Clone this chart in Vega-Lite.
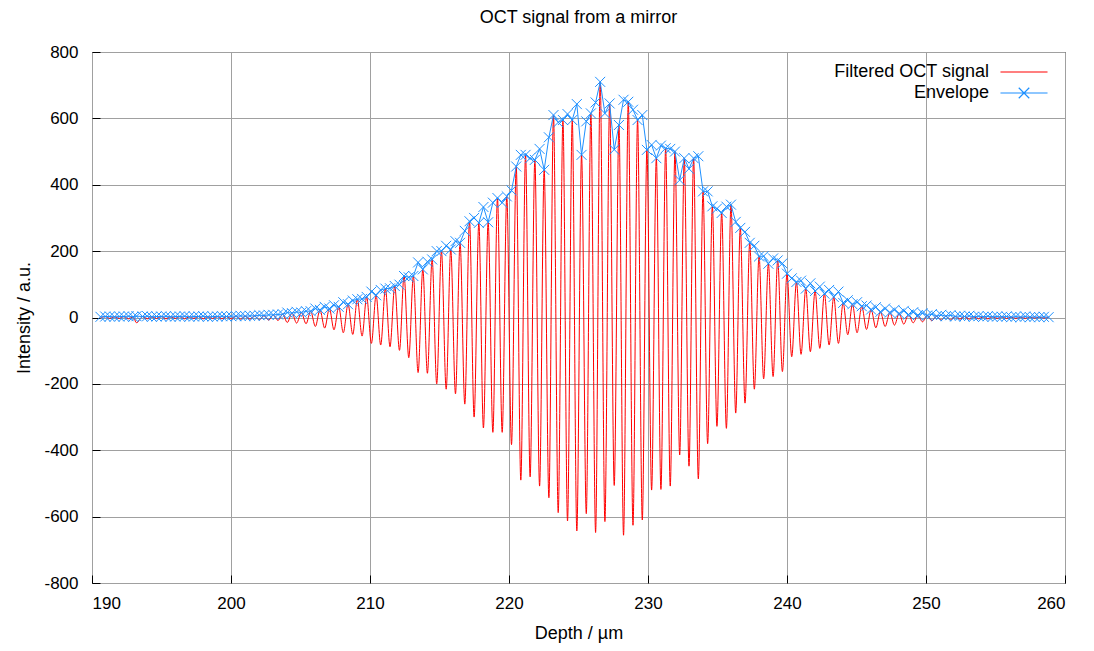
{
"$schema": "https://vega.github.io/schema/vega-lite/v6.json",
"width": 973, "height": 531,
"autosize": {"type": "none"},
"padding": {"left": 92, "top": 52, "right": 29, "bottom": 68},
"background": "white",
"title": {"text": "OCT signal from a mirror", "fontSize": 18, "fontWeight": "normal", "font": "Liberation Sans", "color": "black", "offset": 16, "anchor": "middle"},
"config": {
  "view": {"stroke": "black", "strokeWidth": 1},
  "font": "Liberation Sans",
  "axis": {"labelFont": "Liberation Sans", "labelFontSize": 17, "labelColor": "black", "titleFont": "Liberation Sans", "titleFontSize": 18, "titleFontWeight": "normal", "titleColor": "black", "domain": false, "grid": true, "gridColor": "#a0a0a0", "gridWidth": 1, "gridOpacity": 1, "tickColor": "black", "tickSize": -8, "tickWidth": 1, "labelExpr": "'' + datum.value"}
},
"data": {"values": [
{"x":190.61,"s":-2,"e":2},{"x":190.95,"s":3,"e":3},{"x":191.28,"s":-3,"e":3},{"x":191.62,"s":2,"e":2},{"x":191.96,"s":-3,"e":3},
{"x":192.29,"s":3,"e":3},{"x":192.63,"s":-4,"e":4},{"x":192.96,"s":2,"e":2},{"x":193.2,"s":-16,"e":4},{"x":193.64,"s":3,"e":3},
{"x":193.97,"s":-4,"e":4},{"x":194.31,"s":2,"e":2},{"x":194.64,"s":-3,"e":3},{"x":194.98,"s":3,"e":3},{"x":195.32,"s":-4,"e":4},
{"x":195.65,"s":2,"e":2},{"x":195.99,"s":-3,"e":3},{"x":196.32,"s":3,"e":3},{"x":196.66,"s":-4,"e":4},{"x":197.0,"s":2,"e":2},
{"x":197.33,"s":-3,"e":3},{"x":197.67,"s":3,"e":3},{"x":198.0,"s":-4,"e":4},{"x":198.34,"s":2,"e":2},{"x":198.68,"s":-3,"e":3},
{"x":199.01,"s":3,"e":3},{"x":199.35,"s":-4,"e":4},{"x":199.68,"s":3,"e":3},{"x":200.02,"s":-4,"e":4},{"x":200.36,"s":4,"e":4},
{"x":200.69,"s":-5,"e":5},{"x":201.03,"s":4,"e":4},{"x":201.36,"s":-5,"e":5},{"x":201.7,"s":5,"e":5},{"x":202.04,"s":-7,"e":7},
{"x":202.37,"s":6,"e":6},{"x":202.71,"s":-8,"e":8},{"x":203.04,"s":8,"e":8},{"x":203.38,"s":-9,"e":9},{"x":203.72,"s":10,"e":10},
{"x":204.05,"s":-15,"e":15},{"x":204.39,"s":13,"e":13},{"x":204.72,"s":-17,"e":17},{"x":205.06,"s":15,"e":15},{"x":205.4,"s":-19,"e":19},
{"x":205.73,"s":19,"e":19},{"x":206.07,"s":-27,"e":27},{"x":206.4,"s":23,"e":23},{"x":206.74,"s":-32,"e":32},{"x":207.08,"s":27,"e":27},
{"x":207.41,"s":-37,"e":37},{"x":207.75,"s":32,"e":32},{"x":208.08,"s":-46,"e":46},{"x":208.42,"s":40,"e":40},{"x":208.76,"s":-51,"e":51},
{"x":209.09,"s":55,"e":55},{"x":209.43,"s":-56,"e":56},{"x":209.76,"s":62,"e":62},{"x":210.1,"s":-78,"e":78},{"x":210.44,"s":67,"e":67},
{"x":210.77,"s":-83,"e":83},{"x":211.11,"s":87,"e":87},{"x":211.44,"s":-88,"e":88},{"x":211.78,"s":95,"e":95},{"x":212.12,"s":-99,"e":99},
{"x":212.45,"s":125,"e":125},{"x":212.79,"s":-121,"e":121},{"x":213.12,"s":125,"e":125},{"x":213.46,"s":-166,"e":166},{"x":213.8,"s":145,"e":145},
{"x":214.13,"s":-168,"e":168},{"x":214.47,"s":175,"e":175},{"x":214.8,"s":-200,"e":200},{"x":215.14,"s":200,"e":200},{"x":215.48,"s":-216,"e":216},
{"x":215.81,"s":205,"e":205},{"x":216.15,"s":-230,"e":230},{"x":216.48,"s":225,"e":225},{"x":216.82,"s":-261,"e":261},{"x":217.16,"s":290,"e":290},
{"x":217.49,"s":-300,"e":300},{"x":217.83,"s":285,"e":285},{"x":218.16,"s":-333,"e":333},{"x":218.5,"s":287,"e":287},{"x":218.84,"s":-346,"e":346},
{"x":219.17,"s":360,"e":360},{"x":219.51,"s":-346,"e":346},{"x":219.84,"s":365,"e":365},{"x":220.18,"s":-383,"e":383},{"x":220.52,"s":455,"e":455},
{"x":220.85,"s":-490,"e":490},{"x":221.19,"s":490,"e":490},{"x":221.52,"s":-480,"e":480},{"x":221.86,"s":475,"e":475},{"x":222.2,"s":-508,"e":508},
{"x":222.53,"s":445,"e":445},{"x":222.87,"s":-543,"e":543},{"x":223.2,"s":610,"e":610},{"x":223.54,"s":-588,"e":588},{"x":223.88,"s":595,"e":595},
{"x":224.21,"s":-613,"e":613},{"x":224.55,"s":595,"e":595},{"x":224.88,"s":-643,"e":643},{"x":225.22,"s":490,"e":490},{"x":225.56,"s":-591,"e":591},
{"x":225.89,"s":615,"e":615},{"x":226.23,"s":-648,"e":648},{"x":226.56,"s":710,"e":710},{"x":226.9,"s":-615,"e":615},{"x":227.24,"s":645,"e":645},
{"x":227.57,"s":-506,"e":506},{"x":227.91,"s":580,"e":580},{"x":228.24,"s":-656,"e":656},{"x":228.58,"s":650,"e":650},{"x":228.92,"s":-626,"e":626},
{"x":229.25,"s":595,"e":595},{"x":229.59,"s":-610,"e":610},{"x":229.92,"s":505,"e":505},{"x":230.26,"s":-520,"e":520},{"x":230.6,"s":480,"e":480},
{"x":230.93,"s":-518,"e":518},{"x":231.27,"s":510,"e":510},{"x":231.6,"s":-508,"e":508},{"x":231.94,"s":500,"e":500},{"x":232.28,"s":-414,"e":414},
{"x":232.61,"s":480,"e":480},{"x":232.95,"s":-448,"e":448},{"x":233.28,"s":480,"e":480},{"x":233.62,"s":-486,"e":486},{"x":233.96,"s":380,"e":380},
{"x":234.29,"s":-380,"e":380},{"x":234.63,"s":335,"e":335},{"x":234.96,"s":-328,"e":328},{"x":235.3,"s":315,"e":315},{"x":235.64,"s":-334,"e":334},
{"x":235.97,"s":340,"e":340},{"x":236.31,"s":-288,"e":288},{"x":236.64,"s":270,"e":270},{"x":236.98,"s":-258,"e":258},{"x":237.32,"s":225,"e":225},
{"x":237.65,"s":-216,"e":216},{"x":237.99,"s":184,"e":184},{"x":238.32,"s":-185,"e":185},{"x":238.66,"s":162,"e":162},{"x":239.0,"s":-178,"e":178},
{"x":239.33,"s":172,"e":172},{"x":239.67,"s":-163,"e":163},{"x":240.0,"s":132,"e":132},{"x":240.34,"s":-118,"e":118},{"x":240.68,"s":107,"e":107},
{"x":241.01,"s":-111,"e":111},{"x":241.35,"s":87,"e":87},{"x":241.68,"s":-103,"e":103},{"x":242.02,"s":80,"e":80},{"x":242.36,"s":-93,"e":93},
{"x":242.69,"s":72,"e":72},{"x":243.03,"s":-83,"e":83},{"x":243.36,"s":62,"e":62},{"x":243.7,"s":-78,"e":78},{"x":244.04,"s":44,"e":44},
{"x":244.37,"s":-52,"e":52},{"x":244.71,"s":40,"e":40},{"x":245.04,"s":-46,"e":46},{"x":245.38,"s":34,"e":34},{"x":245.72,"s":-36,"e":36},
{"x":246.05,"s":24,"e":24},{"x":246.39,"s":-31,"e":31},{"x":246.72,"s":17,"e":17},{"x":247.06,"s":-27,"e":27},{"x":247.4,"s":15,"e":15},
{"x":247.73,"s":-23,"e":23},{"x":248.07,"s":12,"e":12},{"x":248.4,"s":-20,"e":20},{"x":248.74,"s":9,"e":9},{"x":249.08,"s":-16,"e":16},
{"x":249.41,"s":7,"e":7},{"x":249.75,"s":-13,"e":13},{"x":250.08,"s":6,"e":6},{"x":250.42,"s":-10,"e":10},{"x":250.76,"s":4,"e":4},
{"x":251.09,"s":-8,"e":8},{"x":251.43,"s":4,"e":4},{"x":251.76,"s":-7,"e":7},{"x":252.1,"s":3,"e":3},{"x":252.44,"s":-5,"e":5},
{"x":252.77,"s":3,"e":3},{"x":253.11,"s":-5,"e":5},{"x":253.44,"s":2,"e":2},{"x":253.78,"s":-4,"e":4},{"x":254.12,"s":2,"e":2},
{"x":254.45,"s":-4,"e":4},{"x":254.79,"s":2,"e":2},{"x":255.12,"s":-3,"e":3},{"x":255.46,"s":2,"e":2},{"x":255.8,"s":-3,"e":3},
{"x":256.13,"s":1,"e":1},{"x":256.47,"s":-3,"e":3},{"x":256.8,"s":1,"e":1},{"x":257.14,"s":-3,"e":3},{"x":257.48,"s":1,"e":1},
{"x":257.81,"s":-2,"e":2},{"x":258.15,"s":1,"e":1},{"x":258.48,"s":-2,"e":2},{"x":258.82,"s":1,"e":1}
]},
"layer": [
  {"mark": {"type": "line", "interpolate": "monotone", "strokeWidth": 1},
   "encoding": {
     "x": {"field": "x", "type": "quantitative", "scale": {"domain": [190, 260], "nice": false, "zero": false},
           "axis": {"values": [190, 200, 210, 220, 230, 240, 250, 260], "title": "Depth / µm", "labelPadding": 20, "titlePadding": 13}},
     "y": {"field": "s", "type": "quantitative", "scale": {"domain": [-800, 800], "nice": false},
           "axis": {"values": [-800, -600, -400, -200, 0, 200, 400, 600, 800], "title": "Intensity / a.u.", "labelPadding": 22, "titlePadding": 10}},
     "color": {"datum": "Filtered OCT signal",
       "scale": {"domain": ["Filtered OCT signal", "Envelope"], "range": ["#ff0000", "#1e90ff"]},
       "legend": {"title": null, "orient": "none", "legendX": 920.5, "legendY": 8.5, "direction": "vertical", "padding": 0, "rowPadding": 0,
         "labelFont": "Liberation Sans", "labelFontSize": 18, "labelColor": "black", "labelAlign": "right", "labelOffset": -46.5, "labelLimit": 400,
         "symbolSize": 441, "symbolStrokeWidth": 1, "symbolType": "M -2.24 0 L 2.24 0",
         "encode": {"symbols": {"update": {
           "shape": {"signal": "datum.label === 'Envelope' ? 'M -2.24 0 L 2.24 0 M -0.5 -0.5 L 0.5 0.5 M -0.5 0.5 L 0.5 -0.5' : 'M -2.24 0 L 2.24 0'"},
           "fill": {"value": "transparent"},
           "stroke": {"signal": "datum.label === 'Envelope' ? '#1e90ff' : '#ff2020'"},
           "opacity": {"value": 1},
           "strokeOpacity": {"value": 1},
           "strokeWidth": {"value": 1.2}}}}}}
   }},
  {"mark": {"type": "line", "strokeWidth": 1},
   "encoding": {
     "x": {"field": "x", "type": "quantitative"},
     "y": {"field": "e", "type": "quantitative", "title": "Intensity / a.u."},
     "color": {"datum": "Envelope"}
   }},
  {"mark": {"type": "point", "shape": "M -1 -1 L 1 1 M -1 1 L 1 -1", "size": 100, "filled": false, "strokeWidth": 1, "opacity": 1},
   "encoding": {
     "x": {"field": "x", "type": "quantitative"},
     "y": {"field": "e", "type": "quantitative", "title": "Intensity / a.u."},
     "color": {"datum": "Envelope"}
   }}
]
}
